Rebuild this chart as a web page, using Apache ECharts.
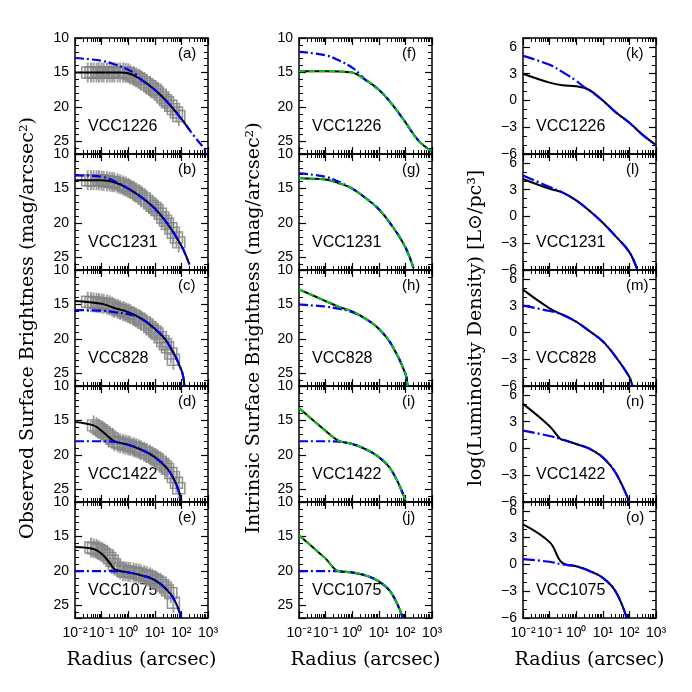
<!DOCTYPE html>
<html><head><meta charset="utf-8">
<script src="https://cdn.jsdelivr.net/npm/echarts@6/dist/echarts.min.js"></script>
<style>html,body{margin:0;padding:0;background:#fff}#c{width:692px;height:692px}</style>
</head><body><div id="c"></div>
<script>
const galaxies = ['VCC1226','VCC1231','VCC828','VCC1422','VCC1075'];
const panelLetters = [['(a)','(f)','(k)'],['(b)','(g)','(l)'],['(c)','(h)','(m)'],['(d)','(i)','(n)'],['(e)','(j)','(o)']];
const xTickLabels = {'-2':'10⁻²','-1':'10⁻¹','0':'10⁰','1':'10¹','2':'10²','3':'10³'};
const sbTicks = [10,15,20,25];
const ldTicks = [-6,-3,0,3,6];

// observed data (gray squares), column 1
const obsX = [0.03,0.04,0.05,0.065,0.08,0.1,0.12,0.16,0.2,0.25,0.3,0.4,0.5,0.65,0.8,1,1.2,1.6,2,2.5,3,4,5,6.5,8,10,12,16,20,25,30,40,50,65,80];
const obsY = [
 [15,15,15,15,15,15,15,15,15,15,15,15,15,15,15.05,15.1,15.3,15.5,15.7,15.9,16.1,16.4,16.7,17.0,17.3,17.5,17.8,18.2,18.6,19.0,19.3,19.8,20.3,20.8,21.3],
 [13.8,13.8,13.8,13.8,13.8,13.85,13.9,13.95,14.0,14.05,14.1,14.25,14.4,14.55,14.7,14.9,15.1,15.35,15.6,15.85,16.1,16.45,16.8,17.15,17.5,17.8,18.1,18.65,19.2,19.65,20.1,20.75,21.4,22.1,22.8],
 [14.6,14.65,14.7,14.75,14.8,14.85,14.9,15.0,15.1,15.3,15.5,15.65,15.8,15.95,16.1,16.25,16.4,16.65,16.9,17.1,17.3,17.6,17.9,18.25,18.6,18.9,19.2,19.75,20.3,20.75,21.2,22.1,23.0,null,null],
 [null,null,15.7,15.95,16.2,16.45,16.7,17.0,17.3,17.65,18.0,18.15,18.3,18.4,18.5,18.6,18.7,18.85,19.0,19.15,19.3,19.5,19.7,19.95,20.2,20.4,20.6,20.95,21.3,21.65,22.0,22.6,23.2,24.0,24.8],
 [null,16.6,16.7,16.8,17.0,17.2,17.45,17.7,18.1,18.5,19.0,19.5,19.75,20.0,20.05,20.1,20.15,20.2,20.3,20.4,20.5,20.6,20.75,20.9,21.1,21.3,21.5,21.7,22.05,22.4,22.8,23.2,24.6,null,null]
];

// observed fits (col 1): black solid, blue dash-dot
const obsBlack = [
 [[0.01,15],[0.1,15],[0.5,15.0],[1,15.1],[3,16],[10,17.5],[30,19.3],[100,21.7],[200,23.3]],
 [[0.01,13.8],[0.1,13.8],[0.3,14.1],[1,15.0],[3,16.2],[10,17.9],[30,20.1],[100,23.3],[200,26]],
 [[0.01,14.5],[0.1,14.9],[0.3,15.5],[1,16.1],[3,17.0],[10,18.5],[30,20.5],[100,24.5],[130,26.8]],
 [[0.01,15.2],[0.05,15.7],[0.1,16.5],[0.2,17.5],[0.3,18.0],[1,18.5],[3,19.2],[10,20.3],[30,22],[60,24],[100,26.5]],
 [[0.01,16.5],[0.05,16.8],[0.1,17.5],[0.2,18.8],[0.3,19.7],[0.5,20.0],[1,20.2],[3,20.6],[10,21.3],[30,22.8],[60,24.5],[100,26.8]]
];
const obsBlue = [
 [[0.01,12.9],[0.1,13.3],[0.3,13.8],[1,14.6],[2,15.3],[3,16],[10,17.5],[30,19.3],[100,21.7],[300,24.2],[1000,26.6]],
 [[0.01,13.1],[0.1,13.3],[0.3,13.9],[1,15.0],[3,16.2],[10,17.9],[30,20.1],[100,23.3],[200,26]],
 [[0.01,15.8],[0.1,15.9],[0.3,16.1],[1,16.4],[3,17.0],[10,18.5],[30,20.5],[100,24.5],[130,26.8]],
 [[0.01,18.0],[0.1,18.0],[0.3,18.1],[1,18.5],[3,19.2],[10,20.3],[30,22],[60,24],[100,26.5]],
 [[0.01,20.0],[0.1,20.0],[0.5,20.05],[1,20.2],[3,20.6],[10,21.3],[30,22.8],[60,24.5],[100,26.8]]
];

// intrinsic (col 2): black solid + green dashed, blue dash-dot
const intBlack = [
 [[0.01,14.8],[0.1,14.8],[0.5,14.9],[1,15.0],[3,16],[10,17.5],[30,19.5],[100,22.2],[300,24.8],[1000,26.5]],
 [[0.01,13.5],[0.1,13.7],[0.3,14.2],[1,15.0],[3,16.3],[10,18],[30,20.3],[100,23.5],[200,26.5]],
 [[0.01,12.8],[0.1,14.5],[0.3,15.3],[1,16.0],[3,17],[10,18.5],[30,20.8],[100,25],[120,26.8]],
 [[0.01,13.2],[0.1,16.5],[0.3,17.9],[1,18.4],[3,19.1],[10,20.3],[30,22.2],[100,26.5]],
 [[0.01,14.8],[0.1,18.2],[0.3,20.0],[1,20.2],[3,20.6],[10,21.5],[30,23.2],[80,26.8]]
];
const intBlue = [
 [[0.01,12.0],[0.1,12.5],[0.3,13.2],[1,14.3],[2,15.3],[3,16],[10,17.5],[30,19.5],[100,22.2],[300,24.8],[1000,26.5]],
 [[0.01,12.8],[0.1,13.3],[0.3,14.0],[1,15.0],[3,16.3],[10,18],[30,20.3],[100,23.5],[200,26.5]],
 [[0.01,15.0],[0.1,15.3],[0.3,15.6],[1,16.1],[3,17],[10,18.5],[30,20.8],[100,25],[120,26.8]],
 [[0.01,18.0],[0.1,18.0],[0.3,18.05],[1,18.4],[3,19.1],[10,20.3],[30,22.2],[100,26.5]],
 [[0.01,20.0],[0.1,20.0],[0.3,20.02],[1,20.2],[3,20.6],[10,21.5],[30,23.2],[80,26.8]]
];

// luminosity density (col 3): black solid, blue dash-dot
const ldBlack = [
 [[0.01,3.0],[0.1,2.0],[0.3,1.7],[1,1.6],[3,1.2],[10,0],[30,-1.3],[100,-2.5],[300,-3.8],[1000,-5.0]],
 [[0.01,4.2],[0.1,3.1],[0.3,2.7],[1,1.8],[3,0.7],[10,-0.7],[30,-2.2],[100,-4.0],[200,-6]],
 [[0.01,4.8],[0.1,2.7],[0.3,2.0],[1,1.2],[3,0.2],[10,-1.0],[30,-2.7],[100,-5.0],[130,-6]],
 [[0.01,5.0],[0.1,2.5],[0.25,1.1],[0.4,0.9],[1,0.5],[3,0],[10,-1.0],[30,-2.7],[100,-6]],
 [[0.01,4.5],[0.1,2.5],[0.25,0.4],[0.4,0.0],[1,-0.2],[3,-0.7],[10,-1.5],[30,-3.0],[80,-6]]
];
const ldBlue = [
 [[0.01,5.0],[0.1,4.0],[0.3,3.2],[1,2.2],[2,1.5],[3,1.2],[10,0],[30,-1.3],[100,-2.5],[300,-3.8],[1000,-5.0]],
 [[0.01,4.6],[0.1,3.3],[0.3,2.7],[1,1.8],[3,0.7],[10,-0.7],[30,-2.2],[100,-4.0],[200,-6]],
 [[0.01,3.0],[0.1,2.4],[0.3,2.0],[1,1.2],[3,0.2],[10,-1.0],[30,-2.7],[100,-5.0],[130,-6]],
 [[0.01,2.0],[0.1,1.4],[0.3,1.0],[1,0.5],[3,0],[10,-1.0],[30,-2.7],[100,-6]],
 [[0.01,0.6],[0.1,0.3],[0.3,0.0],[1,-0.2],[3,-0.7],[10,-1.5],[30,-3.0],[80,-6]]
];

const chart = echarts.init(document.getElementById('c'));
const lefts = [75,299,523], W = 133, H = 116, TOP = 38;
const grids=[], xAxes=[], yAxes=[], series=[], graphics=[];
const tickFont = {fontFamily:'Liberation Sans, Arial', fontSize:14, color:'#000'};
function xAx(g, pos, showLabel){
  return {type:'log', logBase:10, gridIndex:g, min:0.01, max:1000, position:pos,
    axisLine:{show:true,onZero:false,lineStyle:{color:'#000',width:1.5}},
    axisTick:{show:true,inside:true,length:7,lineStyle:{color:'#000',width:1.2}},
    minorTick:{show:true,splitNumber:9,length:4,lineStyle:{color:'#000'}},
    splitLine:{show:false},
    axisLabel:{show:showLabel, ...tickFont, margin:8,
      formatter:v=>xTickLabels[String(Math.round(Math.log10(v)))]||''}};
}
function yAx(g, c, pos, showLabel){
  const sb = c<2;
  return {type:'value', gridIndex:g, position:pos, inverse:sb,
    min: sb?10:-6, max: sb?26.8:7, interval: sb?5:3,
    axisLine:{show:true,onZero:false,lineStyle:{color:'#000',width:1.5}},
    axisTick:{show:true,inside:true,length:7,lineStyle:{color:'#000',width:1.2}},
    minorTick:{show:true,splitNumber:sb?5:3,length:4,lineStyle:{color:'#000'}},
    splitLine:{show:false},
    axisLabel:{show:showLabel, ...tickFont, margin:6, showMaxLabel:false,
      formatter:v=>String(v).replace('-','−')}};
}
const BLUE='#0000ee', dashDot=[9,3,2,3];
for(let r=0;r<5;r++) for(let c=0;c<3;c++){
  const g = grids.length;
  grids.push({left:lefts[c], top:TOP+H*r, width:W, height:H});
  const xi = xAxes.length; xAxes.push(xAx(g,'bottom',r===4)); xAxes.push(xAx(g,'top',false));
  const yi = yAxes.length; yAxes.push(yAx(g,c,'left',true)); yAxes.push(yAx(g,c,'right',false));
  const line = (data,color,type,w,z)=>({type:'line',xAxisIndex:xi,yAxisIndex:yi,data,smooth:0.4,showSymbol:false,
    lineStyle:{color,width:w,type},z,silent:true,animation:false});
  if(c===0){
    const pts = obsX.map((x,i)=>[x,obsY[r][i]]).filter(p=>p[1]!==null);
    series.push({type:'scatter',xAxisIndex:xi,yAxisIndex:yi,data:pts,symbol:'rect',symbolSize:[12,11],
      itemStyle:{color:'rgba(0,0,0,0)',borderColor:'#7a7a7a',borderWidth:1.5},z:1,animation:false});
    series.push({type:'scatter',xAxisIndex:xi,yAxisIndex:yi,data:pts,symbol:'rect',symbolSize:[2,20],
      itemStyle:{color:'#8a8a8a'},z:1,animation:false});
    series.push(line(obsBlack[r],'#000','solid',2,3));
    series.push(line(obsBlue[r],BLUE,dashDot,2.2,4));
  } else if(c===1){
    series.push(line(intBlack[r],'#000','solid',2,3));
    series.push(line(intBlue[r],BLUE,dashDot,2.2,4));
    series.push(line(intBlack[r],'#00cc00',[6,4],2,5));
  } else {
    series.push(line(ldBlack[r],'#000','solid',2,3));
    series.push(line(ldBlue[r],BLUE,[12,3,2,3],2.2,4));
  }
  graphics.push({type:'text',left:lefts[c]+W-30,top:TOP+H*r+8,style:{text:panelLetters[r][c],font:'15px Liberation Sans',fill:'#000'}});
  graphics.push({type:'text',left:lefts[c]+13,top:TOP+H*r+H-35,style:{text:galaxies[r],font:'16px Liberation Sans',fill:'#000'}});
}
const titleFont = '19px DejaVu Serif';
[['Observed Surface Brightness (mag/arcsec²)',28],['Intrinsic Surface Brightness (mag/arcsec²)',254],['log(Luminosity Density) [L⊙/pc³]',476]].forEach(([t,x])=>{
  graphics.push({type:'text',x:x,y:328,rotation:Math.PI/2,style:{text:t,font:titleFont,fill:'#000',textAlign:'center',textVerticalAlign:'middle'}});
});
lefts.forEach(l=>graphics.push({type:'text',x:l+W/2,y:660,style:{text:'Radius (arcsec)',font:titleFont,fill:'#000',textAlign:'center',textVerticalAlign:'middle'}}));
chart.setOption({animation:false,grid:grids,xAxis:xAxes,yAxis:yAxes,series,graphic:graphics});
</script></body></html>
